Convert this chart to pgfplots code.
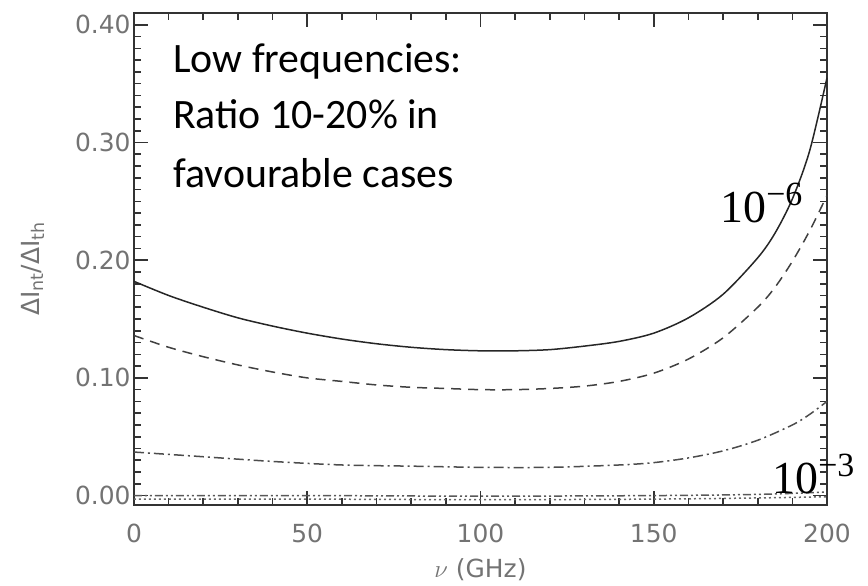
\documentclass[border=0pt]{standalone}
\usepackage{pgfplots}
\pgfplotsset{compat=1.18}
\usepackage{fontspec}
\setmainfont{DejaVu Sans}
\newfontfamily\calib{Carlito}
\newfontfamily\serif{Liberation Serif}
\newcommand{\tenpow}[1]{{\serif\fontsize{46}{46}\selectfont 10\raisebox{17bp}{\fontsize{34}{34}\selectfont −#1}}}
\begin{document}
\begin{tikzpicture}
\begin{axis}[
  at={(0,0)}, anchor=south west,
  scale only axis, width=693bp, height=492bp,
  xmin=0, xmax=200, ymin=-0.008, ymax=0.41,
  xtick={0,50,100,150,200}, minor x tick num=4,
  ytick={0,0.1,0.2,0.3,0.4}, minor y tick num=9,
  scaled y ticks=false,
  tick align=inside, major tick length=14bp, minor tick length=7bp,
  axis line style={line width=2bp, black!80},
  every tick/.style={line width=1.6bp, black!80},
  tick label style={font=\fontsize{25}{25}\selectfont, text=black!55},
  /pgf/number format/assume math mode=true,
  yticklabel style={/pgf/number format/fixed, /pgf/number format/fixed zerofill, /pgf/number format/precision=2},
  xticklabel style={yshift=-15bp},
  xlabel={$\nu$\ (GHz)},
  ylabel={ΔI\textsubscript{nt}/ΔI\textsubscript{th}},
  label style={font=\fontsize{25}{25}\selectfont, text=black!55},
  x label style={at={(axis description cs:0.5,-0.132)}, anchor=center},
  y label style={at={(axis description cs:-0.146,0.48)}, anchor=center},
  clip=false,
]
% solid
\addplot[black!85, line width=1.5bp, smooth] coordinates {
(0,0.182) (10,0.170) (20,0.160) (30,0.151) (40,0.144) (50,0.138) (60,0.133) (70,0.129) (80,0.126) (90,0.124) (100,0.123) (110,0.123) (120,0.124) (130,0.127) (140,0.131) (150,0.138) (160,0.151) (170,0.171) (180,0.202) (185,0.223) (190,0.252) (195,0.293) (200,0.355)};
% dashed
\addplot[black!75, line width=1.5bp, smooth, dash pattern=on 10bp off 7bp] coordinates {
(0,0.136) (10,0.126) (20,0.118) (30,0.111) (40,0.105) (50,0.100) (60,0.097) (70,0.094) (80,0.092) (90,0.091) (100,0.090) (110,0.090) (120,0.091) (130,0.093) (140,0.097) (150,0.104) (160,0.116) (170,0.134) (180,0.160) (185,0.177) (190,0.199) (195,0.225) (200,0.255)};
% dash-dot
\addplot[black!70, line width=1.5bp, smooth, dash pattern=on 10bp off 4bp on 2bp off 4bp] coordinates {
(0,0.037) (20,0.033) (40,0.029) (60,0.026) (80,0.025) (100,0.024) (120,0.024) (140,0.026) (150,0.028) (160,0.032) (170,0.038) (180,0.047) (190,0.060) (195,0.069) (200,0.080)};
% dash-dot-dot
\addplot[black!65, line width=1.5bp, smooth, dash pattern=on 8bp off 3bp on 2bp off 3bp on 2bp off 3bp] coordinates {
(0,0.000) (50,0.000) (100,-0.0005) (150,0.000) (180,0.001) (200,0.003)};
% dotted
\addplot[black!60, line width=1.5bp, smooth, dash pattern=on 2bp off 3bp] coordinates {
(0,-0.003) (50,-0.003) (100,-0.0035) (150,-0.003) (180,-0.002) (200,-0.001)};
\node[anchor=base west, inner sep=0pt, font=\calib\fontsize{42}{42}\selectfont] at (rel axis cs:0.0563,0.880) {Low frequencies:};
\node[anchor=base west, inner sep=0pt, font=\calib\fontsize{42}{42}\selectfont] at (rel axis cs:0.0563,0.766) {Ratio 10-20\% in};
\node[anchor=base west, inner sep=0pt, font=\calib\fontsize{42}{42}\selectfont] at (rel axis cs:0.0563,0.646) {favourable cases};
\node[anchor=base west, inner sep=0pt] at (rel axis cs:0.846,0.575) {\tenpow{6}};
\node[anchor=base west, inner sep=0pt] at (rel axis cs:0.921,0.024) {\tenpow{3}};
\end{axis}
\pgfresetboundingbox
\useasboundingbox (-134bp,-81bp) rectangle (734bp,505bp);
\end{tikzpicture}
\end{document}
